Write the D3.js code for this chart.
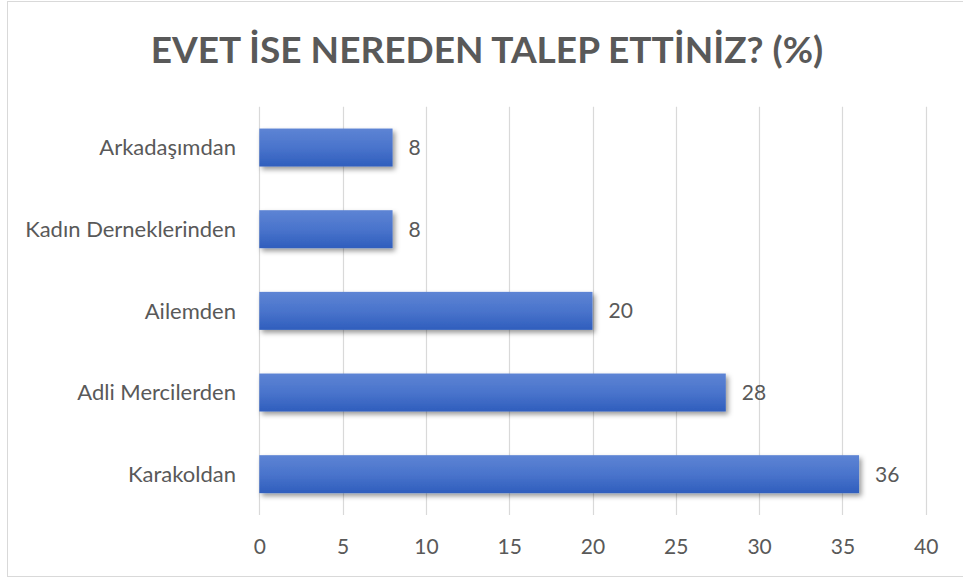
<!DOCTYPE html>
<html><head><meta charset="utf-8">
<script src="https://cdn.jsdelivr.net/npm/d3@7"></script>
<style>html,body{margin:0;padding:0;background:#fff;}svg{display:block;}</style>
</head><body>
<svg id="c" width="963" height="581"></svg>
<script>
const title = "EVET İSE NEREDEN TALEP ETTİNİZ? (%)";
const categories = ["Arkadaşımdan", "Kadın Derneklerinden", "Ailemden", "Adli Mercilerden", "Karakoldan"];
const values = [8, 8, 20, 28, 36];
const xTicks = [0, 5, 10, 15, 20, 25, 30, 35, 40];

const svg = d3.select("#c");
const font = "Lato, 'Open Sans', sans-serif";
const textColor = "#595959";

// chart border
svg.append("rect").attr("x", 7.5).attr("y", 1.5).attr("width", 962).attr("height", 575)
  .attr("fill", "#fff").attr("stroke", "#d9d9d9").attr("stroke-width", 1);

const defs = svg.append("defs");
const grad = defs.append("linearGradient").attr("id", "barGrad").attr("x1", 0).attr("y1", 0).attr("x2", 0).attr("y2", 1);
grad.append("stop").attr("offset", "0%").attr("stop-color", "#5d84d4");
grad.append("stop").attr("offset", "50%").attr("stop-color", "#4a74cc");
grad.append("stop").attr("offset", "100%").attr("stop-color", "#2f5ebd");
const f = defs.append("filter").attr("id", "shadow").attr("x", "-5%").attr("y", "-20%").attr("width", "115%").attr("height", "160%");
f.append("feDropShadow").attr("dx", 2.5).attr("dy", 3).attr("stdDeviation", 2.5).attr("flood-color", "#000").attr("flood-opacity", 0.4);

const x = d3.scaleLinear().domain([0, 40]).range([259.3, 925.7]);
const y = d3.scaleBand().domain(categories).range([106.7, 515]).paddingInner(0.535).paddingOuter(0.2675);

// gridlines
svg.append("g").selectAll("line").data(xTicks).join("line")
  .attr("x1", d => Math.round(x(d)) + 0.5).attr("x2", d => Math.round(x(d)) + 0.5)
  .attr("y1", 106.7).attr("y2", 515)
  .attr("stroke", "#d9d9d9").attr("stroke-width", 1.2);

// x axis tick labels
const xAxis = d3.axisBottom(x).tickValues(xTicks).tickSize(0).tickPadding(0);
const gx = svg.append("g").attr("transform", "translate(0,554)").call(xAxis);
gx.select(".domain").remove();
gx.selectAll("text").attr("dy", 0).attr("fill", textColor).style("font-family", font).style("font-size", "21px");

// bars
svg.append("g").selectAll("rect").data(categories).join("rect")
  .attr("x", x(0)).attr("y", d => y(d))
  .attr("width", (d, i) => x(values[i]) - x(0)).attr("height", y.bandwidth())
  .attr("fill", "url(#barGrad)").attr("filter", "url(#shadow)");

// data labels
svg.append("g").selectAll("text").data(categories).join("text")
  .attr("x", (d, i) => x(values[i]) + 16).attr("y", d => y(d) + y.bandwidth() / 2 + 7.5)
  .attr("fill", textColor).style("font-family", font).style("font-size", "21px")
  .text((d, i) => values[i]);

// category labels
const yAxis = d3.axisLeft(y).tickSize(0).tickPadding(0);
const gy = svg.append("g").attr("transform", "translate(236,0)").call(yAxis);
gy.select(".domain").remove();
const catText = gy.selectAll("text").attr("fill", textColor).attr("dy", "0.36em").style("font-family", font).style("font-size", "19px");
let maxW = 0; catText.each(function(){ maxW = Math.max(maxW, this.getComputedTextLength()); });
catText.style("font-size", (19 * 211 / maxW) + "px");

// title
const t = svg.append("text").attr("x", 487).attr("y", 63).attr("text-anchor", "middle")
  .attr("fill", textColor).style("font-family", font).style("font-weight", "bold").style("font-size", "36px")
  .text(title);
const tw = t.node().getComputedTextLength();
t.style("font-size", (36 * 673 / tw) + "px");
</script>
</body></html>
